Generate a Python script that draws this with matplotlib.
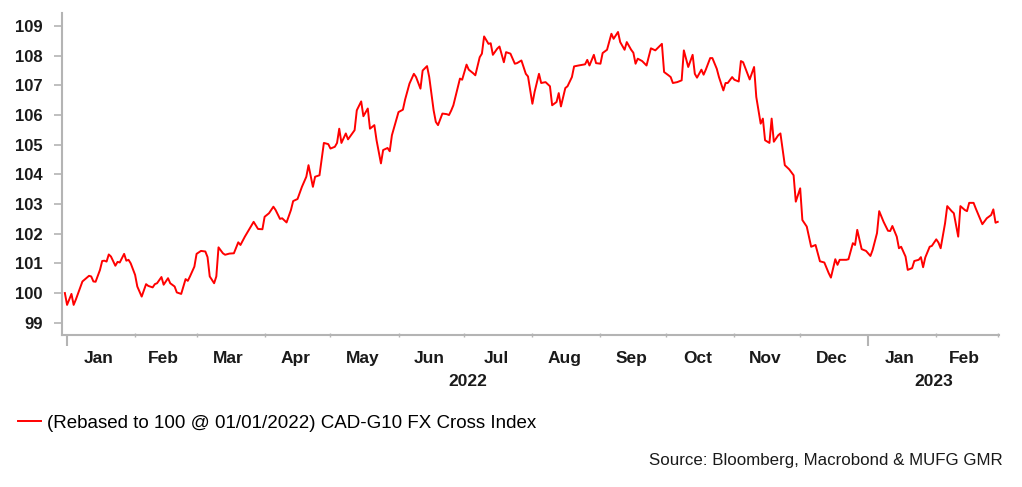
# CAD-G10 FX Cross Index, rebased to 100 at 01/01/2022
import numpy as np
import pandas as pd
import matplotlib
matplotlib.use('Agg')
import matplotlib.pyplot as plt
import matplotlib.dates as mdates

plt.rcParams['font.family'] = ['Liberation Sans', 'DejaVu Sans']

# Data - days counted from 2022-01-01
base_date = '2022-01-01'
days = [
    -1, 0, 2, 3, 4, 6, 7, 10, 11, 12, 13, 15, 16, 17, 18, 19, 20, 22, 23, 24,
    26, 27, 28, 29, 31, 32, 34, 36, 37, 39, 40, 41, 43, 44, 46, 47, 49, 50, 52, 54,
    55, 56, 58, 59, 61, 63, 64, 65, 67, 68, 69, 71, 72, 74, 76, 78, 79, 81, 83, 85,
    87, 89, 90, 92, 94, 95, 97, 98, 100, 102, 103, 105, 107, 109, 110, 112, 113, 115, 117, 119,
    120, 122, 123, 124, 125, 127, 128, 131, 132, 134, 135, 137, 138, 140, 141, 143, 144, 146, 147, 148,
    151, 153, 154, 156, 158, 159, 161, 162, 164, 165, 167, 168, 169, 171, 173, 174, 175, 176, 179, 180,
    182, 183, 185, 186, 188, 189, 190, 192, 193, 194, 196, 197, 199, 200, 202, 204, 205, 207, 209, 210,
    212, 213, 215, 216, 218, 220, 221, 223, 224, 225, 227, 228, 230, 231, 233, 236, 237, 238, 240, 241,
    243, 244, 246, 248, 249, 251, 252, 254, 255, 257, 258, 259, 260, 262, 264, 266, 268, 271, 272, 274,
    275, 276, 278, 280, 281, 283, 285, 286, 287, 289, 290, 291, 293, 294, 296, 297, 299, 300, 301, 303,
    304, 306, 307, 308, 310, 311, 313, 314, 316, 317, 318, 320, 321, 322, 324, 325, 327, 329, 331, 332,
    334, 335, 337, 339, 341, 343, 345, 347, 348, 350, 351, 352, 355, 356, 358, 359, 360, 362, 364, 366,
    367, 369, 370, 372, 374, 375, 376, 378, 379, 380, 382, 383, 385, 386, 388, 389, 390, 391, 393, 394,
    396, 397, 398, 400, 401, 403, 404, 406, 407, 409, 410, 411, 413, 414, 417, 419, 421, 422, 423, 424,
]
index_values = [
    100.0, 99.6, 99.97, 99.6, 99.78, 100.18, 100.39, 100.58, 100.56, 100.39,
    100.38, 100.78, 101.08, 101.09, 101.06, 101.3, 101.23, 100.92, 101.05, 101.03,
    101.32, 101.09, 101.12, 101.0, 100.61, 100.22, 99.88, 100.3, 100.24, 100.19,
    100.3, 100.33, 100.54, 100.28, 100.5, 100.33, 100.22, 100.02, 99.97, 100.47,
    100.41, 100.56, 100.89, 101.32, 101.42, 101.4, 101.21, 100.56, 100.33, 100.56,
    101.54, 101.34, 101.29, 101.33, 101.34, 101.71, 101.62, 101.9, 102.15, 102.4,
    102.16, 102.15, 102.57, 102.69, 102.91, 102.8, 102.5, 102.52, 102.38, 102.8,
    103.1, 103.17, 103.58, 103.92, 104.31, 103.58, 103.92, 103.97, 105.06, 105.02,
    104.87, 104.93, 105.06, 105.54, 105.06, 105.38, 105.18, 105.49, 106.16, 106.46,
    105.96, 106.22, 105.54, 105.66, 105.15, 104.37, 104.82, 104.89, 104.78, 105.32,
    106.1, 106.18, 106.52, 107.06, 107.39, 107.28, 106.89, 107.5, 107.65, 107.28,
    106.16, 105.77, 105.66, 106.05, 106.03, 106.0, 106.15, 106.33, 107.23, 107.19,
    107.7, 107.53, 107.41, 107.34, 107.95, 108.07, 108.65, 108.4, 108.42, 108.03,
    108.24, 108.31, 107.78, 108.12, 108.07, 107.73, 107.75, 107.84, 107.39, 107.3,
    106.38, 106.78, 107.39, 107.08, 107.11, 106.97, 106.33, 106.44, 106.74, 106.29,
    106.91, 106.97, 107.28, 107.64, 107.67, 107.71, 107.86, 107.67, 108.03, 107.75,
    107.73, 108.09, 108.2, 108.74, 108.57, 108.8, 108.46, 108.2, 108.46, 108.2,
    108.1, 107.73, 107.9, 107.82, 107.67, 108.25, 108.18, 108.4, 107.45, 107.34,
    107.28, 107.08, 107.11, 107.17, 108.18, 107.62, 108.03, 107.39, 107.26, 107.53,
    107.36, 107.53, 107.92, 107.92, 107.56, 107.28, 106.83, 107.08, 107.08, 107.28,
    107.19, 107.13, 107.82, 107.78, 107.39, 107.2, 107.62, 106.61, 105.71, 105.88,
    105.15, 105.06, 105.88, 105.1, 105.32, 105.38, 104.31, 104.17, 103.97, 103.08,
    103.53, 102.46, 102.24, 101.56, 101.62, 101.07, 101.03, 100.67, 100.52, 101.14,
    100.95, 101.12, 101.12, 101.14, 101.68, 101.62, 102.13, 101.48, 101.42, 101.25,
    101.45, 102.02, 102.76, 102.4, 102.1, 102.09, 102.26, 101.9, 101.51, 101.56,
    101.23, 100.78, 100.84, 101.08, 101.12, 101.21, 100.87, 101.2, 101.56, 101.59,
    101.81, 101.7, 101.51, 102.35, 102.93, 102.76, 102.69, 101.9, 102.93, 102.8,
    102.76, 103.04, 103.04, 102.85, 102.32, 102.52, 102.63, 102.82, 102.37, 102.4,
]
y_ticks = list(range(99, 110))
series_label = '(Rebased to 100 @ 01/01/2022) CAD-G10 FX Cross Index'
source_text = 'Source: Bloomberg, Macrobond & MUFG GMR'

dates = pd.Timestamp(base_date) + pd.to_timedelta(days, unit='D')

# Figure
fig = plt.figure(figsize=(10.22, 4.87), dpi=100)
ax = fig.add_axes([0.0607, 0.3121, 0.9168, 0.6606])

line, = ax.plot(dates, index_values, color='#ff0000', linewidth=1.4, label=series_label)

axis_grey = '#b4b4b4'
text_col = '#1a1a1a'
ax.set_ylim(98.585, 109.43)
ax.set_yticks(y_ticks)
ax.set_xlim(pd.Timestamp('2021-12-29 17:00'), pd.Timestamp('2023-03-01 14:00'))

for side in ['top', 'right']:
    ax.spines[side].set_visible(False)
for side in ['left', 'bottom']:
    ax.spines[side].set_color(axis_grey)
    ax.spines[side].set_linewidth(1.5)

ax.tick_params(axis='y', colors=axis_grey, labelcolor=text_col, length=6, width=1.2,
               pad=8, labelsize=12)
for lbl in ax.get_yticklabels():
    lbl.set_fontweight('bold')

# x axis: long ticks at year start, short ticks at month start, labels in between
ax.xaxis.set_major_locator(mdates.YearLocator())
ax.xaxis.set_minor_locator(mdates.MonthLocator())
ax.xaxis.set_major_formatter(plt.NullFormatter())
ax.xaxis.set_minor_formatter(plt.NullFormatter())
ax.tick_params(axis='x', which='major', colors=axis_grey, length=8, width=1.5, direction='out')
ax.tick_params(axis='x', which='minor', colors=axis_grey, length=3, width=1.0, direction='inout')

xtrans = ax.get_xaxis_transform()
month_starts = pd.date_range('2022-01-01', '2023-03-01', freq='MS')
for start, end in zip(month_starts[:-1], month_starts[1:]):
    mid = start + (end - start) / 2 - pd.Timedelta(days=1)
    ax.text(mid, -0.072, start.strftime('%b'), transform=xtrans, ha='center', va='center',
            fontsize=12.5, fontweight='bold', color=text_col)

xmin, xmax = ax.get_xlim()
for year in [2022, 2023]:
    y0 = max(mdates.date2num(pd.Timestamp(f'{year}-01-01')), xmin)
    y1 = min(mdates.date2num(pd.Timestamp(f'{year + 1}-01-01')), xmax)
    ax.text((y0 + y1) / 2, -0.143, str(year), transform=xtrans, ha='center', va='center',
            fontsize=12.5, fontweight='bold', color=text_col)

# Legend and source
ax.legend(handles=[line], loc='center left', bbox_to_anchor=(18 / 1022, 1 - 423 / 487),
          bbox_transform=fig.transFigure, frameon=False, fontsize=13.5,
          handlelength=1.2, handletextpad=0.35, borderpad=0, borderaxespad=0)
fig.text(1003 / 1022, 1 - 460 / 487, source_text, ha='right', va='center',
         fontsize=12.2, color=text_col)

fig.savefig('out.png', dpi=100)
